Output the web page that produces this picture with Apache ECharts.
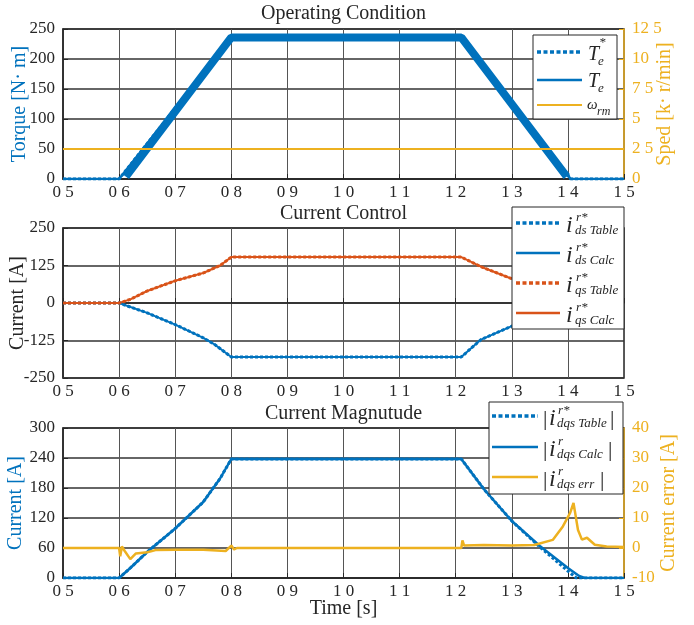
<!DOCTYPE html>
<html><head><meta charset="utf-8">
<script src="https://cdn.jsdelivr.net/npm/echarts@6/dist/echarts.min.js"></script>
<style>html,body{margin:0;padding:0;background:#fff}#c{width:694px;height:625px}</style>
</head><body><div id="c"></div>
<script>
// ---------- tick labels ----------
const xTickLabels = ['0 5','0 6','0 7','0 8','0 9','1 0','1 1','1 2','1 3','1 4','1 5'];
const speedTickLabels = ['0','2 5','5','7 5','10','12 5'];

// ---------- Operating condition ----------
const tTorque = [0.5, 0.6, 0.8, 1.21, 1.405, 1.5];
const torqueRef = [0, 0, 236, 236, 0, 0];
const torqueCalc = [0, 0, 236, 236, 0, 0];
const tTorqueRipple = [0.612, 0.8, 1.21, 1.398];
const torqueRipple = [4, 236, 236, 4];
const tSpeed = [0.5, 1.5];
const speed = [2.5, 2.5];

// ---------- Current control ----------
const tIds = [0.5, 0.6, 0.65, 0.7, 0.75, 0.77, 0.8, 1.21, 1.245, 1.3, 1.35, 1.405, 1.5];
const idsTable = [0, 0, -33, -72, -116, -138, -180, -180, -122, -77, -38, 0, 0];
const idsCalc  = [0, 0, -33, -72, -116, -138, -180, -180, -122, -77, -38, 0, 0];
const tIqs = [0.5, 0.6, 0.62, 0.65, 0.7, 0.75, 0.78, 0.8, 1.21, 1.245, 1.3, 1.35, 1.405, 1.5];
const iqsTable = [0, 0, 12, 40, 74, 100, 125, 153, 153, 121, 81, 40, 0, 0];
const iqsCalc  = [0, 0, 12, 40, 74, 100, 125, 153, 153, 121, 81, 40, 0, 0];

// ---------- Current magnitude ----------
const tMagTable = [0.5, 0.6, 0.62, 0.65, 0.7, 0.75, 0.78, 0.8, 1.21, 1.25, 1.3, 1.35, 1.4, 1.415, 1.5];
const magTable  = [0, 0, 20, 52, 99, 152, 199, 238, 238, 178, 114, 62, 14, 0, 0];
const tMagCalc  = [0.5, 0.6, 0.62, 0.65, 0.7, 0.75, 0.78, 0.8, 1.21, 1.25, 1.3, 1.35, 1.4, 1.42, 1.43, 1.5];
const magCalc   = [0, 0, 20, 52, 99, 152, 199, 238, 238, 178, 114, 64, 20, 4, 0, 0];
const tErr = [0.5, 0.6, 0.602, 0.605, 0.61, 0.62, 0.63, 0.65, 0.665, 0.7, 0.75, 0.79, 0.8, 0.805, 0.81,
              1.21, 1.212, 1.215, 1.25, 1.3, 1.34, 1.373, 1.391, 1.404, 1.41, 1.418, 1.425, 1.434, 1.448, 1.469, 1.5];
const errVals = [0, 0, -2.8, 0.5, -1, -3.7, -1.8, -1.4, -0.7, -0.6, -0.6, -1, 0.8, -0.5, 0,
                 0, 2.5, 0.8, 1, 0.8, 1, 2.7, 7.2, 11.7, 15, 6, 2.8, 3.4, 1.1, 0.5, 0.3];

// ---------- styling ----------
const BLUE = '#0072BD', ORANGE = '#D95319', YELLOW = '#EDB120', INK = '#262626';
const FONT = "'Liberation Serif', 'Times New Roman', serif";
const DOT = [3, 2];
const LEG_DOT = [4, 2.5];

const pts = (t, v) => t.map((x, i) => [x, v[i]]);

const GL = 63, GR = 694 - 624, GH = 150;
const gridTops = [29, 228, 428];

function xAxis(i) {
  return {
    type: 'value', gridIndex: i, min: 0.5, max: 1.5, interval: 0.1,
    axisLine: { show: true, lineStyle: { color: INK, width: 1.5 } },
    axisTick: { show: true, inside: true, length: 5, lineStyle: { color: INK, width: 1 } },
    splitLine: { show: true, lineStyle: { color: '#555', width: 1 } },
    axisLabel: {
      color: INK, fontFamily: FONT, fontSize: 17, margin: 5,
      formatter: v => xTickLabels[Math.round((v - 0.5) * 10)]
    }
  };
}
function yLeft(i, min, max, interval, name, nameColor, gap) {
  return {
    type: 'value', gridIndex: i, position: 'left', min, max, interval,
    name, nameLocation: 'middle', nameGap: gap, nameMoveOverlap: false,
    nameTextStyle: { color: nameColor, fontFamily: FONT, fontSize: 20 },
    axisLine: { show: true, lineStyle: { color: INK, width: 1.5 } },
    axisTick: { show: true, inside: true, length: 5, lineStyle: { color: INK } },
    splitLine: { show: true, lineStyle: { color: '#333', width: 1.5 } },
    axisLabel: { color: INK, fontFamily: FONT, fontSize: 17, margin: 8 }
  };
}
function yRight(i, min, max, interval, name, gap, fmt) {
  return {
    type: 'value', gridIndex: i, position: 'right', min, max, interval,
    name, nameLocation: 'middle', nameGap: gap, nameMoveOverlap: false,
    nameTextStyle: { color: YELLOW, fontFamily: FONT, fontSize: 20 },
    axisLine: { show: true, lineStyle: { color: YELLOW, width: 1.5 } },
    axisTick: { show: true, inside: true, length: 5, lineStyle: { color: YELLOW } },
    splitLine: { show: false },
    axisLabel: { color: YELLOW, fontFamily: FONT, fontSize: 17, margin: 8, formatter: fmt }
  };
}
function line(name, xi, yi, data, color, width, dash, z) {
  return {
    type: 'line', name, xAxisIndex: xi, yAxisIndex: yi, data, symbol: 'none',
    lineStyle: { color, width, type: dash || 'solid' }, itemStyle: { color },
    z: z || 2, animation: false, silent: true
  };
}

// ---------- legend / text graphics ----------
const G = [];
function txt(x, y, text, size, italic, color, align) {
  G.push({ type: 'text', x, y, z: 102, silent: true,
    style: { text, fontFamily: FONT, fontSize: size, fontStyle: italic ? 'italic' : 'normal',
      fill: color || INK, align: align || 'left', verticalAlign: 'middle',
      textAlign: align || 'left', textVerticalAlign: 'middle' } });
}
function box(x, y, w, h) {
  G.push({ type: 'rect', z: 100, silent: true, shape: { x, y, width: w, height: h },
    style: { fill: '#fff', stroke: INK, lineWidth: 1 } });
}
function sample(x1, x2, y, color, width, dash) {
  G.push({ type: 'line', z: 101, silent: true, shape: { x1, y1: y, x2, y2: y },
    style: { stroke: color, lineWidth: width, lineDash: dash || null } });
}

// titles
txt(343.5, 14, 'Operating Condition', 20, false, INK, 'center');
txt(343.5, 214, 'Current Control', 20, false, INK, 'center');
txt(343.5, 414, 'Current Magnutude', 20, false, INK, 'center');
txt(343.5, 609, 'Time [s]', 20, false, INK, 'center');

// legend 1
box(533, 35, 84, 84);
sample(537, 580, 52, BLUE, 3.5, LEG_DOT);
txt(588, 55, 'T', 20, true); txt(599, 43, '*', 13, true); txt(598, 62, 'e', 13, true);
sample(537, 582, 80, BLUE, 2.5);
txt(588, 82, 'T', 20, true); txt(598, 89, 'e', 13, true);
sample(537, 582, 105, YELLOW, 2);
txt(587, 105, 'ω', 15, true); txt(597, 112, 'rm', 12, true);

// legend 2
box(512, 207, 112, 122);
const l2 = [
  [223, BLUE, LEG_DOT, 3.5, 'ds Table'],
  [253, BLUE, null, 2.5, 'ds Calc'],
  [283, ORANGE, LEG_DOT, 3.5, 'qs Table'],
  [313, ORANGE, null, 2.5, 'qs Calc']
];
l2.forEach(([y, c, d, w, s]) => {
  sample(516, 560, y, c, w, d);
  txt(566, y + 3, 'i', 24, true);
  txt(576, y - 5, 'r*', 13, true);
  txt(575, y + 8, s, 13, true);
});

// legend 3
box(489, 402, 134, 92);
const l3 = [
  [416, BLUE, LEG_DOT, 3.5, 'r*', 'dqs Table', 610],
  [447, BLUE, null, 2.5, 'r', 'dqs Calc', 608],
  [477, YELLOW, null, 2.5, 'r', 'dqs err', 600]
];
l3.forEach(([y, c, d, w, sup, s, xe]) => {
  sample(492, 538, y, c, w, d);
  txt(543, y + 3, '|', 22, false);
  txt(549, y + 3, 'i', 24, true);
  txt(558, y - 5, sup, 13, true);
  txt(557, y + 8, s, 13, true);
  txt(xe, y + 3, '|', 22, false);
});

const option = {
  backgroundColor: '#fff',
  animation: false,
  grid: gridTops.map(t => ({ left: GL, right: GR, top: t, height: GH, show: true,
    borderColor: INK, borderWidth: 1.5, backgroundColor: 'transparent',
    containLabel: false, outerBoundsMode: 'none' })),
  xAxis: [xAxis(0), xAxis(1), xAxis(2)],
  yAxis: [
    yLeft(0, 0, 250, 50, 'Torque [N· m]', BLUE, 33),
    yRight(0, 0, 12.5, 2.5, 'Sped [k· r/min]', 31, v => speedTickLabels[Math.round(v / 2.5)]),
    yLeft(1, -250, 250, 125, 'Current [A]', INK, 35),
    yLeft(2, 0, 300, 60, 'Current [A]', BLUE, 37),
    yRight(2, -10, 40, 10, 'Current error [A]', 35)
  ],
  series: [
    line('Te ripple', 0, 0, pts(tTorqueRipple, torqueRipple), BLUE, 8, null, 2),
    line('Te', 0, 0, pts(tTorque, torqueCalc), BLUE, 2.5, null, 3),
    line('Te*', 0, 0, pts(tTorque, torqueRef), BLUE, 3, DOT, 4),
    line('wrm', 0, 1, pts(tSpeed, speed), YELLOW, 2, null, 5),

    line('ids Calc', 1, 2, pts(tIds, idsCalc), BLUE, 2, null, 2),
    line('ids Table', 1, 2, pts(tIds, idsTable), BLUE, 3, DOT, 3),
    line('iqs Calc', 1, 2, pts(tIqs, iqsCalc), ORANGE, 2, null, 2),
    line('iqs Table', 1, 2, pts(tIqs, iqsTable), ORANGE, 3, DOT, 3),

    line('mag Calc', 2, 3, pts(tMagCalc, magCalc), BLUE, 2.5, null, 3),
    line('mag Table', 2, 3, pts(tMagTable, magTable), BLUE, 3, DOT, 2),
    line('err', 2, 4, pts(tErr, errVals), YELLOW, 2.5, null, 4)
  ],
  graphic: G
};

const chart = echarts.init(document.getElementById('c'), null, { renderer: 'canvas' });
chart.setOption(option);
</script>
</body></html>
